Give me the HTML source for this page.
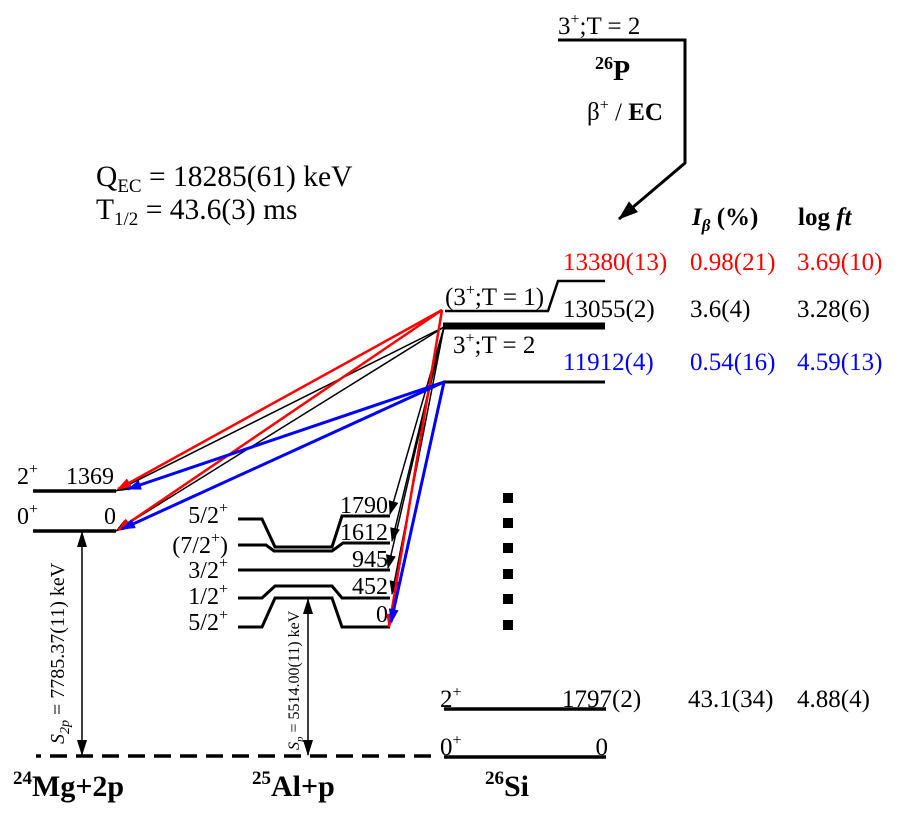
<!DOCTYPE html>
<html><head><meta charset="utf-8"><style>
html,body{margin:0;padding:0;background:#fff;}
svg{display:block;}
text{font-family:"Liberation Serif",serif;fill:#000;}
.b{font-weight:bold;}
</style></head><body>
<svg width="904" height="819" viewBox="0 0 904 819" xmlns="http://www.w3.org/2000/svg">
<defs>
<marker id="ak" markerWidth="14" markerHeight="10" refX="13" refY="5" orient="auto" markerUnits="userSpaceOnUse"><path d="M0,0 L14,5 L0,10 z" fill="#000"/></marker>
<marker id="ar" markerWidth="14" markerHeight="10" refX="13" refY="5" orient="auto" markerUnits="userSpaceOnUse"><path d="M0,0 L14,5 L0,10 z" fill="#f00"/></marker>
<marker id="ab" markerWidth="14" markerHeight="10" refX="13" refY="5" orient="auto" markerUnits="userSpaceOnUse"><path d="M0,0 L14,5 L0,10 z" fill="#00f"/></marker>
<marker id="as" markerWidth="16" markerHeight="10" refX="15" refY="5" orient="auto-start-reverse" markerUnits="userSpaceOnUse"><path d="M0,0 L16,5 L0,10 z" fill="#000"/></marker>
<marker id="abig" markerWidth="20" markerHeight="14" refX="19" refY="7" orient="auto" markerUnits="userSpaceOnUse"><path d="M0,0 L20,7 L0,14 z" fill="#000"/></marker>
</defs>

<!-- 26P parent -->
<path d="M558,40 L685,40 L685,163 L619,219" fill="none" stroke="#000" stroke-width="3" marker-end="url(#abig)"/>
<text x="558" y="34" font-size="25">3<tspan font-size="16" dy="-10">+</tspan><tspan dy="10">;T = 2</tspan></text>
<text x="595" y="80" class="b" font-size="28"><tspan font-size="18" dy="-11">26</tspan><tspan dy="11">P</tspan></text>
<text x="587" y="120" font-size="25">β<tspan font-size="16" dy="-10">+</tspan><tspan dy="10"> / </tspan><tspan class="b">EC</tspan></text>

<!-- Q and T -->
<text x="96" y="186" font-size="29.5">Q<tspan font-size="19" dy="6">EC</tspan><tspan dy="-6"> = 18285(61) keV</tspan></text>
<text x="96" y="219" font-size="29.5">T<tspan font-size="19" dy="6">1/2</tspan><tspan dy="-6"> = 43.6(3) ms</tspan></text>

<!-- headers -->
<text x="692" y="225" font-size="25" class="b"><tspan font-style="italic">I</tspan><tspan font-style="italic" font-size="17" dy="6">β</tspan><tspan dy="-6"> (%)</tspan></text>
<text x="798" y="225" font-size="25" class="b">log <tspan font-style="italic">ft</tspan></text>

<!-- right columns -->
<g font-size="25">
<text x="563" y="270" style="fill:#f00">13380(13)</text>
<text x="690" y="270" style="fill:#f00">0.98(21)</text>
<text x="797" y="270" style="fill:#f00">3.69(10)</text>
<text x="563" y="317">13055(2)</text>
<text x="690" y="317">3.6(4)</text>
<text x="797" y="317">3.28(6)</text>
<text x="563" y="370" style="fill:#00f">11912(4)</text>
<text x="690" y="370" style="fill:#00f">0.54(16)</text>
<text x="797" y="370" style="fill:#00f">4.59(13)</text>
<text x="562" y="707">1797(2)</text>
<text x="688" y="707">43.1(34)</text>
<text x="797" y="707">4.88(4)</text>
<text x="608" y="755" text-anchor="end">0</text>
</g>

<!-- 26Si levels -->
<path d="M445,311 L548,311 L558,281 L605,281" fill="none" stroke="#000" stroke-width="2.5"/>
<line x1="443" y1="326" x2="605" y2="326" stroke="#000" stroke-width="7"/>
<line x1="443" y1="382" x2="605" y2="382" stroke="#000" stroke-width="3"/>
<line x1="444" y1="709" x2="606" y2="709" stroke="#000" stroke-width="3.5"/>
<line x1="444" y1="757" x2="606" y2="757" stroke="#000" stroke-width="3.5"/>
<g font-size="25">
<text x="445" y="305">(3<tspan font-size="16" dy="-10">+</tspan><tspan dy="10">;T = 1)</tspan></text>
<text x="453" y="353">3<tspan font-size="16" dy="-10">+</tspan><tspan dy="10">;T = 2</tspan></text>
<text x="440" y="707">2<tspan font-size="16" dy="-10">+</tspan></text>
<text x="440" y="755">0<tspan font-size="16" dy="-10">+</tspan></text>
</g>

<!-- dots -->
<g fill="#000">
<rect x="503" y="493" width="10" height="10"/>
<rect x="503" y="518" width="10" height="10"/>
<rect x="503" y="543" width="10" height="10"/>
<rect x="503" y="569" width="10" height="10"/>
<rect x="503" y="594" width="10" height="10"/>
<rect x="503" y="620" width="10" height="10"/>
</g>

<!-- 24Mg levels -->
<line x1="33" y1="491" x2="116" y2="491" stroke="#000" stroke-width="3.5"/>
<line x1="33" y1="531" x2="116" y2="531" stroke="#000" stroke-width="3.5"/>
<g font-size="24">
<text x="17" y="484">2<tspan font-size="16" dy="-10">+</tspan></text>
<text x="114" y="484" text-anchor="end">1369</text>
<text x="17" y="524">0<tspan font-size="16" dy="-10">+</tspan></text>
<text x="116" y="524" text-anchor="end">0</text>
</g>

<!-- 25Al levels -->
<g fill="none" stroke="#000" stroke-width="3">
<path d="M238,519 L262,519 L275,547 L332,547 L342,516 L390,516"/>
<path d="M238,545 L266,545 L274,551 L332,551 L343,543 L390,543"/>
<path d="M238,570 L390,570"/>
<path d="M238,598 L262,598 L275,586 L332,586 L342,598 L390,598"/>
<path d="M238,627 L262,627 L275,598 L332,598 L342,627 L390,627"/>
</g>
<g font-size="24">
<text x="228" y="523" text-anchor="end">5/2<tspan font-size="16" dy="-10">+</tspan></text>
<text x="228" y="553" text-anchor="end">(7/2<tspan font-size="16" dy="-10">+</tspan><tspan dy="10">)</tspan></text>
<text x="228" y="578" text-anchor="end">3/2<tspan font-size="16" dy="-10">+</tspan></text>
<text x="228" y="604" text-anchor="end">1/2<tspan font-size="16" dy="-10">+</tspan></text>
<text x="228" y="630" text-anchor="end">5/2<tspan font-size="16" dy="-10">+</tspan></text>
<text x="388" y="513" text-anchor="end">1790</text>
<text x="388" y="540" text-anchor="end">1612</text>
<text x="388" y="567" text-anchor="end">945</text>
<text x="388" y="594" text-anchor="end">452</text>
<text x="388" y="622" text-anchor="end">0</text>
</g>

<!-- transitions -->
<g stroke="#000" stroke-width="1.5" fill="none">
<line x1="444" y1="327" x2="116" y2="491" marker-end="url(#ak)"/>
<line x1="444" y1="327" x2="116" y2="531" marker-end="url(#ak)"/>
<line x1="444" y1="327" x2="390" y2="514" marker-end="url(#ak)"/>
<line x1="444" y1="327" x2="392" y2="541" marker-end="url(#ak)"/>
<line x1="444" y1="327" x2="388" y2="568" marker-end="url(#ak)"/>
<line x1="444" y1="327" x2="392" y2="594" marker-end="url(#ak)"/>
</g>
<g stroke="#f00" stroke-width="2.5" fill="none">
<line x1="442" y1="310" x2="118" y2="489" marker-end="url(#ar)"/>
<line x1="442" y1="310" x2="118" y2="530" marker-end="url(#ar)"/>
<line x1="442" y1="310" x2="389" y2="627" marker-end="url(#ar)"/>
</g>
<g stroke="#00f" stroke-width="3" fill="none">
<line x1="444" y1="382" x2="128" y2="489" marker-end="url(#ab)"/>
<line x1="444" y1="382" x2="122" y2="529" marker-end="url(#ab)"/>
<line x1="444" y1="382" x2="391" y2="622" marker-end="url(#ab)"/>
</g>

<!-- separation energies -->
<line x1="82" y1="532" x2="82" y2="755" stroke="#000" stroke-width="1.5" marker-start="url(#as)" marker-end="url(#as)"/>
<line x1="308" y1="599" x2="308" y2="755" stroke="#000" stroke-width="1.5" marker-start="url(#as)" marker-end="url(#as)"/>
<text transform="translate(64,744) rotate(-90)" font-size="20"><tspan font-style="italic">S</tspan><tspan font-style="italic" font-size="14" dy="5">2p</tspan><tspan dy="-5"> = 7785.37(11) keV</tspan></text>
<text transform="translate(299,750) rotate(-90)" font-size="16"><tspan font-style="italic">S</tspan><tspan font-style="italic" font-size="11" dy="4">p</tspan><tspan dy="-4"> = 5514.00(11) keV</tspan></text>

<!-- dashed threshold -->
<line x1="36" y1="756" x2="41" y2="756" stroke="#000" stroke-width="3.5"/>
<line x1="50" y1="756" x2="440" y2="756" stroke="#000" stroke-width="3.5" stroke-dasharray="17,9"/>

<!-- nucleus labels -->
<text x="13" y="796" class="b" font-size="30"><tspan font-size="19" dy="-12">24</tspan><tspan dy="12">Mg+2p</tspan></text>
<text x="252" y="796" class="b" font-size="30"><tspan font-size="19" dy="-12">25</tspan><tspan dy="12">Al+p</tspan></text>
<text x="485" y="796" class="b" font-size="30"><tspan font-size="19" dy="-12">26</tspan><tspan dy="12">Si</tspan></text>
</svg>
</body></html>
